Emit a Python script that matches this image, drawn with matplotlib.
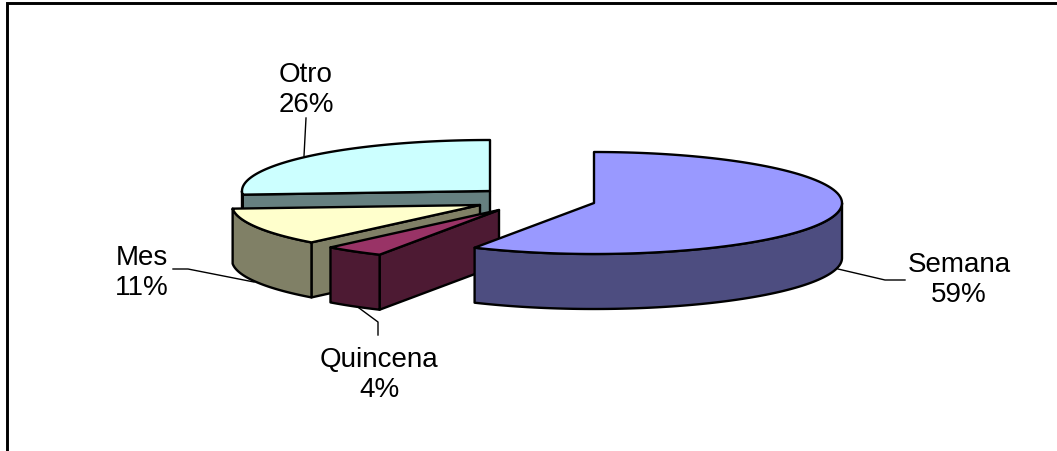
import numpy as np
from matplotlib import pyplot as plt
from matplotlib.patches import Polygon

# clockwise from twelve o'clock
names = ['Semana', 'Quincena', 'Mes', 'Otro']
values = [59, 4, 11, 26]
top_colors = ['#9999FF', '#993366', '#FFFFCC', '#CCFFFF']
side_colors = ['#4D4D80', '#4D1A33', '#808066', '#668080']

# exploded centres of the slices, in pixels
centers = [(594, 204), (499, 211), (480, 206), (490, 192)]
draw_order = [3, 2, 1, 0]

rx = 248
ry = 51
depth = 55
lw = 1.7

label_pos = [(959, 280), (379, 375), (142, 273), (306, 90)]
leaders = [
    [(838, 270), (885, 281), (905, 281)],
    [(378, 336), (378, 323), (355, 306)],
    [(173, 270), (188, 270), (254, 283)],
    [(306, 119), (304, 157)],
]


def warp(deg):
    # the pie is drawn rotated a bit, so angles on the ellipse get skewed
    return deg - 4 * np.sin(np.radians(2 * deg))


def rim(cx, cy, a, b):
    t = np.radians(warp(np.linspace(a, b, 120)))
    return np.column_stack([cx + rx * np.sin(t), cy - ry * np.cos(t)])


def down(pts):
    return pts + np.array([0, depth])


fig = plt.figure(figsize=(10.57, 4.52), dpi=100)
ax = fig.add_axes([0, 0, 1, 1])
ax.set_xlim(0, 1057)
ax.set_ylim(452, 0)
ax.axis('off')

# chart frame, only top and left are inside the image
ax.plot([7, 7, 1057], [452, 4, 4], color='black', lw=2.1, solid_joinstyle='miter')

edges = np.cumsum([0] + values) / sum(values) * 360

for i in draw_order:
    a, b = edges[i], edges[i + 1]
    cx, cy = centers[i]
    apex = np.array([[cx, cy]], dtype=float)
    z = 2 + draw_order.index(i)
    style = dict(edgecolor='black', lw=lw, joinstyle='round', zorder=z)

    # cut face at the start of the slice
    if 180 < a < 360:
        p = rim(cx, cy, a, a)[:1]
        face = np.vstack([p, apex, down(apex), down(p)])
        ax.add_patch(Polygon(face, facecolor=side_colors[i], **style))

    # outer wall, front half only
    lo, hi = max(a, 90), min(b, 270)
    if lo < hi:
        r = rim(cx, cy, lo, hi)
        ax.add_patch(Polygon(np.vstack([r, down(r)[::-1]]), facecolor=side_colors[i], **style))

    # top of the slice
    ax.add_patch(Polygon(np.vstack([apex, rim(cx, cy, a, b)]), facecolor=top_colors[i], **style))

plt.rcParams['font.family'] = ['Liberation Sans', 'DejaVu Sans']

for name, val, (x, y), pts in zip(names, values, label_pos, leaders):
    xs, ys = zip(*pts)
    ax.plot(xs, ys, color='black', lw=1.0, zorder=1)
    ax.text(x, y, f'{name}\n{val}%', ha='center', va='center', fontsize=20,
            linespacing=1.2, color='black', zorder=10)

fig.savefig('out.png', dpi=100)
